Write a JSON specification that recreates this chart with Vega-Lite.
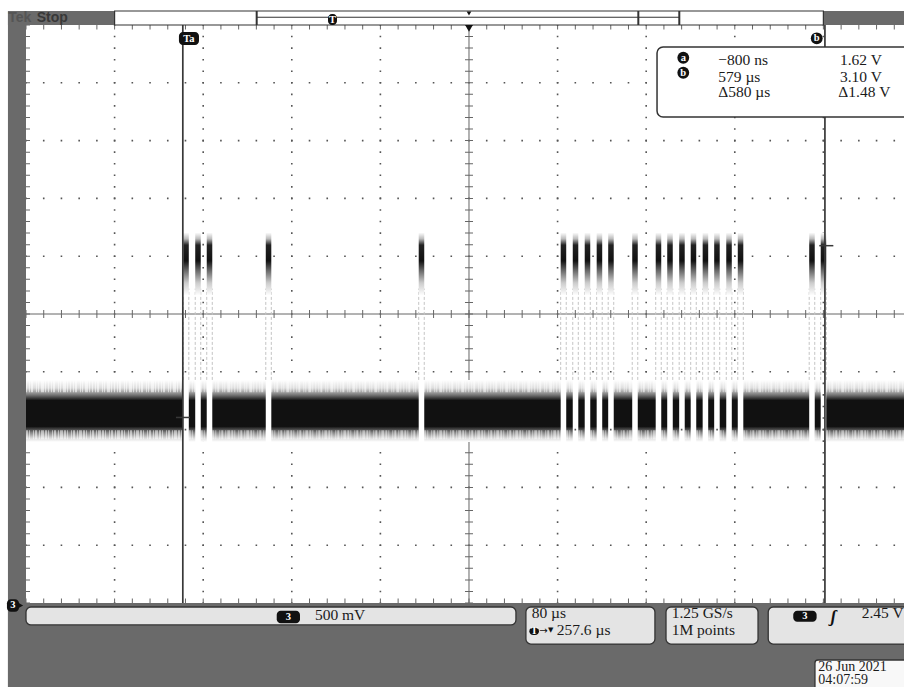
{
 "$schema": "https://vega.github.io/schema/vega-lite/v6.json",
 "width": 878, "height": 578,
 "autosize": {"type": "none"},
 "padding": {"left": 26, "top": 25, "right": 0, "bottom": 84},
 "background": "#ffffff",
 "config": {"view": {"stroke": null, "fill": "#ffffff"}, "axis": {"disable": true}},
 "data": {"values": [{}]},
 "datasets": {
  "signal": [
   {"level":"low","t":-142.4,"t2":-0.4},{"level":"high","t":-0.4,"t2":4.6},
   {"level":"low","t":4.6,"t2":10.4},{"level":"high","t":10.4,"t2":15.4},
   {"level":"low","t":15.4,"t2":20.8},{"level":"high","t":20.8,"t2":25.8},
   {"level":"low","t":25.8,"t2":74.1},{"level":"high","t":74.1,"t2":79.1},
   {"level":"low","t":79.1,"t2":212.2},{"level":"high","t":212.2,"t2":217.2},
   {"level":"low","t":217.2,"t2":340.4},{"level":"high","t":340.4,"t2":345.4},
   {"level":"low","t":345.4,"t2":351.3},{"level":"high","t":351.3,"t2":356.3},
   {"level":"low","t":356.3,"t2":362.1},{"level":"high","t":362.1,"t2":367.1},
   {"level":"low","t":367.1,"t2":372.9},{"level":"high","t":372.9,"t2":377.9},
   {"level":"low","t":377.9,"t2":383.3},{"level":"high","t":383.3,"t2":388.3},
   {"level":"low","t":388.3,"t2":405.0},{"level":"high","t":405.0,"t2":410.0},
   {"level":"low","t":410.0,"t2":426.2},{"level":"high","t":426.2,"t2":431.2},
   {"level":"low","t":431.2,"t2":436.6},{"level":"high","t":436.6,"t2":441.6},
   {"level":"low","t":441.6,"t2":447.4},{"level":"high","t":447.4,"t2":452.4},
   {"level":"low","t":452.4,"t2":457.8},{"level":"high","t":457.8,"t2":462.8},
   {"level":"low","t":462.8,"t2":468.6},{"level":"high","t":468.6,"t2":473.6},
   {"level":"low","t":473.6,"t2":479.0},{"level":"high","t":479.0,"t2":484.0},
   {"level":"low","t":484.0,"t2":489.9},{"level":"high","t":489.9,"t2":494.9},
   {"level":"low","t":494.9,"t2":500.3},{"level":"high","t":500.3,"t2":505.3},
   {"level":"low","t":505.3,"t2":564.8},{"level":"high","t":564.8,"t2":569.8},
   {"level":"low","t":569.8,"t2":575.2},{"level":"high","t":575.2,"t2":580.2},
   {"level":"low","t":580.2,"t2":650.4}
  ]
 },
 "layer": [
  {"data": {"values": [
    {"part":"top","t":-158.7,"t2":650.4,"v":5.0,"v2":5.121},
    {"part":"left","t":-158.7,"t2":-142.4,"v":-0.76,"v2":5.121},
    {"part":"bottom","t":-158.7,"t2":650.4,"v":-0.76,"v2":0}]},
   "mark": {"type":"rect","color":"#6a6a6a","clip":false},
   "encoding": {
    "x":{"field":"t","type":"quantitative","scale":{"domain":[-142.4,650.4],"nice":false,"zero":false},"title":null},
    "x2":{"field":"t2"},
    "y":{"field":"v","type":"quantitative","scale":{"domain":[0,5],"nice":false,"zero":false},"title":null},
    "y2":{"field":"v2"}}},
  {"data": {"values": [{"t":-62.4},{"t":17.6},{"t":97.6},{"t":177.6},{"t":337.6},{"t":417.6},{"t":497.6},{"t":577.6}]},
   "mark": {"type":"rule","color":"#555555","strokeWidth":1.6,"strokeDash":[1.6,9.96],"strokeDashOffset":0.8},
   "encoding": {"x":{"field":"t","type":"quantitative","title":null},"y":{"datum":0},"y2":{"datum":5}}},
  {"data": {"values": [{"v":0.5},{"v":1.0},{"v":1.5},{"v":2.0},{"v":3.0},{"v":3.5},{"v":4.0},{"v":4.5}]},
   "mark": {"type":"rule","color":"#555555","strokeWidth":1.6,"strokeDash":[1.6,16.12],"strokeDashOffset":0.8},
   "encoding": {"y":{"field":"v","type":"quantitative","title":null},"x":{"datum":-142.4},"x2":{"datum":650.4}}},
  {"mark": {"type":"rule","color":"#666666","strokeWidth":1},
   "encoding": {"y":{"datum":2.5},"x":{"datum":-142.4},"x2":{"datum":650.4}}},
  {"mark": {"type":"rule","color":"#666666","strokeWidth":1},
   "encoding": {"x":{"datum":257.6},"y":{"datum":0},"y2":{"datum":5}}},
  {"mark": {"type":"rule","color":"#666666","strokeWidth":8,"strokeDash":[1,16.72],"strokeDashOffset":0.5},
   "encoding": {"y":{"datum":2.5},"x":{"datum":-142.4},"x2":{"datum":650.4}}},
  {"mark": {"type":"rule","color":"#666666","strokeWidth":8,"strokeDash":[1,10.56],"strokeDashOffset":0.5},
   "encoding": {"x":{"datum":257.6},"y":{"datum":0},"y2":{"datum":5}}},
  {"mark": {"type":"rule","color":"#666666","strokeWidth":9,"strokeDash":[1,16.72],"strokeDashOffset":0.5,"clip":true},
   "encoding": {"y":{"datum":5},"x":{"datum":-142.4},"x2":{"datum":650.4}}},
  {"mark": {"type":"rule","color":"#666666","strokeWidth":9,"strokeDash":[1,16.72],"strokeDashOffset":0.5,"clip":true},
   "encoding": {"y":{"datum":0},"x":{"datum":-142.4},"x2":{"datum":650.4}}},
  {"mark": {"type":"rule","color":"#666666","strokeWidth":8,"strokeDash":[1,10.56],"strokeDashOffset":0.5,"clip":true},
   "encoding": {"x":{"datum":-142.4},"y":{"datum":0},"y2":{"datum":5}}},
  {"data": {"name":"signal"}, "transform": [{"filter":"datum.level == 'high'"}],
   "mark": {"type":"rule","color":"#c4c4c4","strokeWidth":1,"strokeDash":[3,2]},
   "encoding": {"x":{"field":"t","type":"quantitative","title":null},"y":{"datum":1.93},"y2":{"datum":2.72}}},
  {"data": {"name":"signal"}, "transform": [{"filter":"datum.level == 'high'"}],
   "mark": {"type":"rule","color":"#c4c4c4","strokeWidth":1,"strokeDash":[3,2]},
   "encoding": {"x":{"field":"t2","type":"quantitative","title":null},"y":{"datum":1.93},"y2":{"datum":2.72}}},
  {"data": {"name":"signal"}, "transform": [{"filter":"datum.level == 'low'"}],
   "mark": {"type":"rect","color":{"gradient":"linear","x1":0,"y1":0,"x2":0,"y2":1,"stops":[
     {"offset":0,"color":"#ffffff"},{"offset":0.13,"color":"#dddddd"},{"offset":0.24,"color":"#777777"},
     {"offset":0.33,"color":"#111111"},{"offset":0.75,"color":"#111111"},{"offset":0.85,"color":"#888888"},
     {"offset":0.94,"color":"#dddddd"},{"offset":1,"color":"#ffffff"}]}},
   "encoding": {"x":{"field":"t","type":"quantitative","title":null},"x2":{"field":"t2"},"y":{"datum":1.393},"y2":{"datum":1.929}}},
  {"data": {"name":"signal"}, "transform": [{"filter":"datum.level == 'low'"}],
   "mark": {"type":"rule","color":"#ffffff","opacity":0.55,"strokeWidth":12,"strokeDash":[1,2,1,1,2,3,1,1,1,2,3,1,1,2]},
   "encoding": {"x":{"field":"t","type":"quantitative","title":null},"x2":{"field":"t2"},"y":{"datum":1.875}}},
  {"data": {"name":"signal"}, "transform": [{"filter":"datum.level == 'low'"}],
   "mark": {"type":"rule","color":"#ffffff","opacity":0.5,"strokeWidth":9,"strokeDash":[2,1,1,3,1,1,2,2,1,1,3,1]},
   "encoding": {"x":{"field":"t","type":"quantitative","title":null},"x2":{"field":"t2"},"y":{"datum":1.455}}},
  {"data": {"name":"signal"}, "transform": [{"filter":"datum.level == 'high'"}],
   "mark": {"type":"rect","color":{"gradient":"linear","x1":0,"y1":0,"x2":0,"y2":1,"stops":[
     {"offset":0,"color":"#ffffff"},{"offset":0.1,"color":"#bbbbbb"},{"offset":0.2,"color":"#222222"},
     {"offset":0.45,"color":"#111111"},{"offset":0.6,"color":"#666666"},{"offset":0.8,"color":"#cccccc"},
     {"offset":1,"color":"#ffffff"}]}},
   "encoding": {"x":{"field":"t","type":"quantitative","title":null},"x2":{"field":"t2"},"y":{"datum":2.66},"y2":{"datum":3.205}}},
  {"mark": {"type":"rule","color":"#383838","strokeWidth":1.7},
   "encoding": {"x":{"datum":-0.8},"y":{"datum":0},"y2":{"datum":5}}},
  {"mark": {"type":"rule","color":"#383838","strokeWidth":1.7},
   "encoding": {"x":{"datum":579},"y":{"datum":0},"y2":{"datum":5}}},
  {"mark": {"type":"rule","color":"#383838","strokeWidth":1.5},
   "encoding": {"y":{"datum":1.605},"x":{"datum":-7},"x2":{"datum":5.7}}},
  {"mark": {"type":"rule","color":"#383838","strokeWidth":1.5},
   "encoding": {"y":{"datum":3.091},"x":{"datum":573.9},"x2":{"datum":586.6}}},
  {"mark": {"type":"rect","fill":"#ffffff","stroke":"#333333","strokeWidth":1.5,"cornerRadius":6,"clip":false},
   "encoding": {"x":{"datum":427.4},"x2":{"datum":660},"y":{"datum":4.204},"y2":{"datum":4.81}}},
  {"data": {"values": [
    {"t":482.7,"v":4.654,"text":"−800 ns"},{"t":482.7,"v":4.511,"text":"579 µs"},{"t":482.7,"v":4.373,"text":"Δ580 µs"},
    {"t":592.6,"v":4.654,"text":"1.62 V"},{"t":592.6,"v":4.511,"text":"3.10 V"},{"t":591.1,"v":4.373,"text":"Δ1.48 V"}]},
   "mark": {"type":"text","font":"Liberation Serif","fontSize":15.5,"align":"left","baseline":"alphabetic","color":"#1a1a1a"},
   "encoding": {"x":{"field":"t","type":"quantitative","title":null},"y":{"field":"v","type":"quantitative","title":null},"text":{"field":"text"}}},
  {"mark": {"type":"rect","fill":"#ffffff","stroke":"#333333","strokeWidth":1.2,"clip":false},
   "encoding": {"x":{"datum":-62.4},"x2":{"datum":577.6},"y":{"datum":5.0},"y2":{"datum":5.121}}},
  {"mark": {"type":"rule","color":"#333333","strokeWidth":1.2,"clip":false},
   "encoding": {"y":{"datum":5.067},"x":{"datum":65.9},"x2":{"datum":447.5}}},
  {"data": {"values": [{"t":65.9},{"t":410.5},{"t":447.5}]},
   "mark": {"type":"rule","color":"#333333","strokeWidth":2,"clip":false},
   "encoding": {"x":{"field":"t","type":"quantitative","title":null},"y":{"datum":5.0},"y2":{"datum":5.121}}},
  {"data": {"values": [
    {"t":-142.4,"t2":300.0,"v":-0.19,"v2":-0.0346},
    {"t":309.0,"t2":425.5,"v":-0.355,"v2":-0.0346},
    {"t":435.5,"t2":518.6,"v":-0.355,"v2":-0.0346},
    {"t":527.8,"t2":665,"v":-0.355,"v2":-0.0346}]},
   "mark": {"type":"rect","fill":"#e4e4e4","stroke":"#333333","strokeWidth":1.3,"cornerRadius":5,"clip":false},
   "encoding": {"x":{"field":"t","type":"quantitative","title":null},"x2":{"field":"t2"},"y":{"field":"v","type":"quantitative","title":null},"y2":{"field":"v2"}}},
  {"mark": {"type":"rect","fill":"#f8f8f8","stroke":"#333333","strokeWidth":1.3,"cornerRadius":3,"clip":false},
   "encoding": {"x":{"datum":570.0},"x2":{"datum":665},"y":{"datum":-0.8},"y2":{"datum":-0.493}}},
  {"data": {"values": [
    {"t":-4.3,"t2":13.8,"v":4.827,"v2":4.939},
    {"t":130.3,"t2":138.4,"v":5.0,"v2":5.095},
    {"t":84.0,"t2":105.0,"v":-0.176,"v2":-0.067},
    {"t":550.4,"t2":571.5,"v":-0.162,"v2":-0.067},
    {"t":312.1,"t2":320.8,"v":-0.277,"v2":-0.21},
    {"t":-159.6,"t2":-148.7,"v":-0.075,"v2":0.032}]},
   "mark": {"type":"rect","color":"#111111","cornerRadius":4,"clip":false},
   "encoding": {"x":{"field":"t","type":"quantitative","title":null},"x2":{"field":"t2"},"y":{"field":"v","type":"quantitative","title":null},"y2":{"field":"v2"}}},
  {"data": {"values": [{"t":571.6,"v":4.885},{"t":451.1,"v":4.717},{"t":451.1,"v":4.587}]},
   "mark": {"type":"point","filled":true,"shape":"circle","size":140,"color":"#111111","opacity":1,"clip":false},
   "encoding": {"x":{"field":"t","type":"quantitative","title":null},"y":{"field":"v","type":"quantitative","title":null}}},
  {"mark": {"type":"point","filled":true,"shape":"triangle-down","size":60,"color":"#111111","opacity":1,"clip":false},
   "encoding": {"x":{"datum":257.6},"y":{"datum":4.97}}},
  {"mark": {"type":"point","filled":true,"shape":"triangle-down","size":22,"color":"#111111","opacity":1,"clip":false},
   "encoding": {"x":{"datum":257.6},"y":{"datum":5.1}}},
  {"mark": {"type":"point","filled":true,"shape":"triangle-right","size":45,"color":"#111111","opacity":1,"clip":false},
   "encoding": {"x":{"datum":-147.6},"y":{"datum":-0.0215}}},
  {"data": {"values": [
    {"t":4.75,"v":4.883,"text":"Ta"},{"t":571.6,"v":4.885,"text":"b"},{"t":451.1,"v":4.717,"text":"a"},
    {"t":451.1,"v":4.587,"text":"b"},{"t":134.35,"v":5.045,"text":"T"},{"t":94.5,"v":-0.121,"text":"3"},
    {"t":561.0,"v":-0.114,"text":"3"},{"t":316.45,"v":-0.243,"text":"T"},{"t":-154.2,"v":-0.0215,"text":"3"}]},
   "mark": {"type":"text","font":"Liberation Serif","fontWeight":"bold","fontSize":10.5,"align":"center","baseline":"middle","color":"#ffffff"},
   "encoding": {"x":{"field":"t","type":"quantitative","title":null},"y":{"field":"v","type":"quantitative","title":null},"text":{"field":"text"}}},
  {"data": {"values": [
    {"t":118.5,"v":-0.147,"text":"500 mV"},{"t":314.2,"v":-0.132,"text":"80 µs"},{"t":336.8,"v":-0.277,"text":"257.6 µs"},
    {"t":440.6,"v":-0.132,"text":"1.25 GS/s"},{"t":440.6,"v":-0.277,"text":"1M points"},{"t":612.2,"v":-0.132,"text":"2.45 V"}]},
   "mark": {"type":"text","font":"Liberation Serif","fontSize":15.5,"align":"left","baseline":"alphabetic","color":"#1a1a1a"},
   "encoding": {"x":{"field":"t","type":"quantitative","title":null},"y":{"field":"v","type":"quantitative","title":null},"text":{"field":"text"}}},
  {"data": {"values": [
    {"t":573.0,"v":-0.585,"text":"26 Jun 2021"},{"t":573.0,"v":-0.702,"text":"04:07:59"}]},
   "mark": {"type":"text","font":"Liberation Serif","fontSize":14,"align":"left","baseline":"alphabetic","color":"#1a1a1a"},
   "encoding": {"x":{"field":"t","type":"quantitative","title":null},"y":{"field":"v","type":"quantitative","title":null},"text":{"field":"text"}}},
  {"mark": {"type":"text","text":"→","font":"DejaVu Sans","fontSize":10,"align":"left","baseline":"middle","color":"#111111"},
   "encoding": {"x":{"datum":321.0},"y":{"datum":-0.242}}},
  {"mark": {"type":"text","text":"▼","font":"DejaVu Sans","fontSize":7,"align":"left","baseline":"middle","color":"#111111"},
   "encoding": {"x":{"datum":329.0},"y":{"datum":-0.236}}},
  {"mark": {"type":"text","text":"ʃ","font":"Liberation Serif","fontWeight":"bold","fontStyle":"italic","fontSize":17,"align":"center","baseline":"middle","color":"#111111"},
   "encoding": {"x":{"datum":586.6},"y":{"datum":-0.118}}},
  {"mark": {"type":"text","text":"Tek","font":"Liberation Sans","fontWeight":"bold","fontSize":14,"align":"left","baseline":"alphabetic","color":"#555555"},
   "encoding": {"x":{"datum":-158.4},"y":{"datum":5.028}}},
  {"mark": {"type":"text","text":"Stop","font":"Liberation Sans","fontWeight":"bold","fontSize":14,"align":"left","baseline":"alphabetic","color":"#383838"},
   "encoding": {"x":{"datum":-132.7},"y":{"datum":5.028}}}
 ]
}
